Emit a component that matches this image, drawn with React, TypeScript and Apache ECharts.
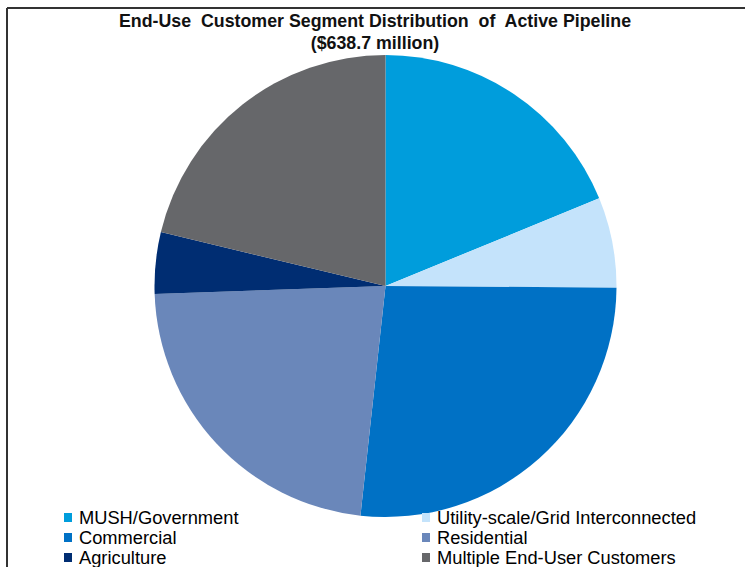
import React, { useEffect, useRef } from "react";
import * as echarts from "echarts";

const categories = [
  "MUSH/Government",
  "Utility-scale/Grid Interconnected",
  "Commercial",
  "Residential",
  "Agriculture",
  "Multiple End-User Customers",
];
const values = [120.1, 40.3, 170.0, 145.1, 27.5, 135.7];
const colors = ["#009DDC", "#C4E3FB", "#0071C5", "#6A87BA", "#002D72", "#66676A"];
const titleLines = ["End-Use  Customer Segment Distribution  of  Active Pipeline", "($638.7 million)"];
const legendLeft = [categories[0], categories[2], categories[4]];
const legendRight = [categories[1], categories[3], categories[5]];

const FONT = "'Liberation Sans', Arial, sans-serif";

export default function App() {
  const ref = useRef<HTMLDivElement>(null);
  useEffect(() => {
    if (!ref.current) return;
    const chart = echarts.init(ref.current, undefined, { renderer: "svg" });
    const legendCommon = {
      orient: "vertical" as const,
      top: 508.5,
      height: 100,
      padding: 0,
      itemWidth: 8,
      itemHeight: 9,
      itemGap: 2,
      icon: "rect",
      textStyle: { fontFamily: FONT, fontSize: 18.3, color: "#000", lineHeight: 18, padding: [0, 0, 0, 2] },
      selectedMode: false,
    };
    chart.setOption({
      animation: false,
      backgroundColor: "#fff",
      title: {
        text: titleLines.join("\n"),
        left: 375,
        textAlign: "center",
        top: 10,
        padding: 0,
        textStyle: { fontFamily: FONT, fontSize: 17.8, fontWeight: "bold", color: "#111", lineHeight: 22 },
      },
      legend: [
        { ...legendCommon, left: 64, data: legendLeft },
        { ...legendCommon, left: 422, data: legendRight },
      ],
      graphic: [
        { type: "line", shape: { x1: 7, y1: 8, x2: 745, y2: 8 }, style: { stroke: "#333", lineWidth: 2 } },
        { type: "line", shape: { x1: 7, y1: 8, x2: 7, y2: 567 }, style: { stroke: "#333", lineWidth: 2 } },
      ],
      series: [
        {
          type: "pie",
          center: [385.5, 286],
          radius: 231,
          startAngle: 90,
          clockwise: true,
          label: { show: false },
          labelLine: { show: false },
          emphasis: { disabled: true },
          itemStyle: { borderWidth: 0 },
          data: categories.map((c, i) => ({ name: c, value: values[i], itemStyle: { color: colors[i] } })),
        },
      ],
    });
    return () => chart.dispose();
  }, []);
  return <div ref={ref} style={{ position: "fixed", left: 0, top: 0, width: 745, height: 567 }} />;
}
